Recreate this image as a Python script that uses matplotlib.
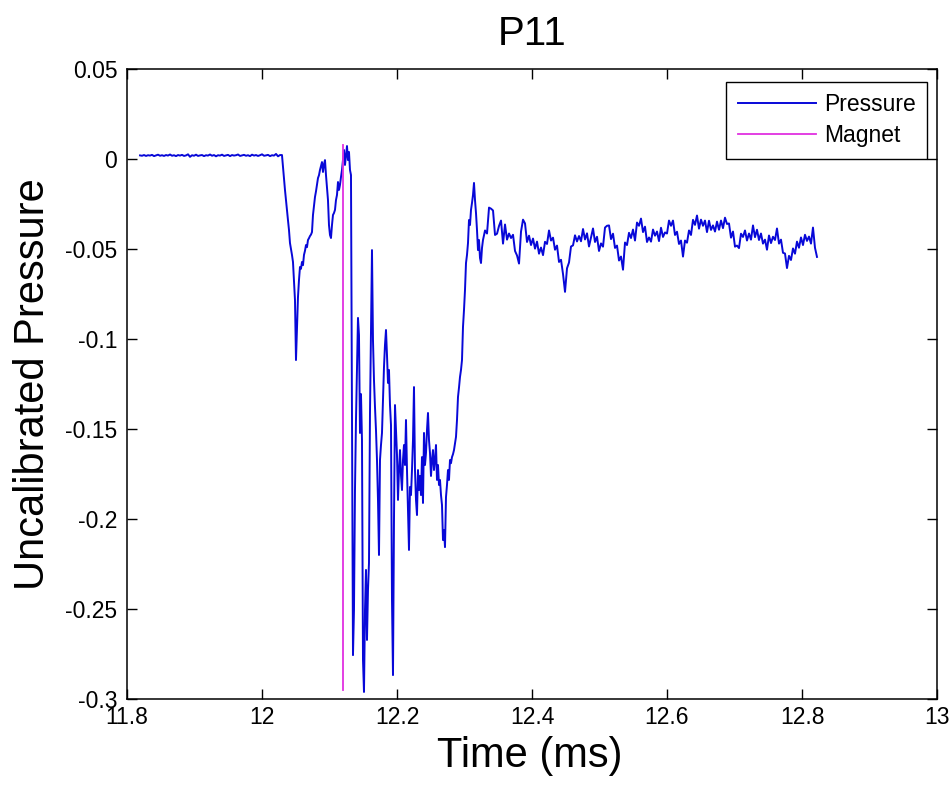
import numpy as np
import matplotlib
matplotlib.use("Agg")
import matplotlib.pyplot as plt

plt.rcParams['font.family'] = ['Liberation Sans', 'DejaVu Sans']

# ---------------- data ----------------
title = "P11"
x_label = "Time (ms)"
y_label = "Uncalibrated Pressure"
series_names = ["Pressure", "Magnet"]

x_ticks = [11.8, 12.0, 12.2, 12.4, 12.6, 12.8, 13.0]
x_tick_labels = ["11.8", "12", "12.2", "12.4", "12.6", "12.8", "13"]
y_ticks = [0.05, 0.0, -0.05, -0.1, -0.15, -0.2, -0.25, -0.3]
y_tick_labels = ["0.05", "0", "-0.05", "-0.1", "-0.15", "-0.2", "-0.25", "-0.3"]

# Pressure: pre-event baseline, sampled 11.819 .. 12.027 ms
baseline_span = (11.8193, 12.0267)
baseline_p = [
    0.0020, 0.0018, 0.0022, 0.0017, 0.0021, 0.0019, 0.0023, 0.0016, 0.0020, 0.0024,
    0.0018, 0.0021, 0.0017, 0.0022, 0.0019, 0.0025, 0.0018, 0.0021, 0.0016, 0.0022,
    0.0019, 0.0023, 0.0017, 0.0020, 0.0026, 0.0012, 0.0021, 0.0018, 0.0024, 0.0017,
    0.0020, 0.0022, 0.0016, 0.0021, 0.0019, 0.0025, 0.0018, 0.0022, 0.0015, 0.0021,
    0.0019, 0.0024, 0.0017, 0.0020, 0.0023, 0.0016, 0.0022, 0.0019, 0.0021, 0.0025,
    0.0017, 0.0020, 0.0023, 0.0018, 0.0021, 0.0016, 0.0024, 0.0019, 0.0022, 0.0017,
    0.0021, 0.0026, 0.0018, 0.0020, 0.0023, 0.0016, 0.0021, 0.0019, 0.0028, 0.0015,
    0.0022,
]

# Pressure: event transient, sampled 12.0296 .. 12.3274 ms
transient_span = (12.0296, 12.3274)
transient_p = [
    0.0022, -0.0044, -0.0110, -0.0172, -0.0230, -0.0283, -0.0340, -0.0394, -0.0467, -0.0500,
    -0.0533, -0.0572, -0.0672, -0.0783, -0.1117, -0.0950, -0.0767, -0.0672, -0.0600, -0.0610,
    -0.0572, -0.0590, -0.0533, -0.0510, -0.0478, -0.0490, -0.0450, -0.0440, -0.0428, -0.0420,
    -0.0406, -0.0311, -0.0260, -0.0211, -0.0180, -0.0144, -0.0106, -0.0090, -0.0061, -0.0040,
    -0.0017, -0.0072, -0.0030, -0.0006, -0.0089, -0.0156, -0.0228, -0.0367, -0.0422, -0.0439,
    -0.0367, -0.0311, -0.0300, -0.0283, -0.0228, -0.0200, -0.0128, -0.0172, -0.0144, -0.0100,
    -0.0061, -0.0006, 0.0050, -0.0033, 0.0022, 0.0072, -0.0006, 0.0039, -0.0061, -0.0089,
    -0.1356, -0.2756, -0.2506, -0.1839, -0.1450, -0.1156, -0.0883, -0.0978, -0.1522, -0.1306,
    -0.1561, -0.2783, -0.2961, -0.2506, -0.2283, -0.2672, -0.2394, -0.2244, -0.1411, -0.0950,
    -0.0506, -0.1006, -0.1228, -0.1378, -0.1506, -0.1672, -0.1894, -0.2200, -0.1672, -0.1589,
    -0.1522, -0.1339, -0.1156, -0.1033, -0.0950, -0.1089, -0.1244, -0.1172, -0.1367, -0.1478,
    -0.2450, -0.2867, -0.2006, -0.1367, -0.1506, -0.1644, -0.1894, -0.1728, -0.1617, -0.1756,
    -0.1839, -0.1672, -0.1589, -0.1700, -0.1450, -0.1728, -0.1950, -0.2172, -0.1822, -0.1867,
    -0.1728, -0.1561, -0.1267, -0.1728, -0.1894, -0.1978, -0.1728, -0.1839, -0.1761, -0.1867,
    -0.1656, -0.1911, -0.1522, -0.1700, -0.1633, -0.1506, -0.1411, -0.1561, -0.1633, -0.1761,
    -0.1672, -0.1617, -0.1728, -0.1672, -0.1589, -0.1783, -0.1700, -0.1811, -0.1783, -0.1867,
    -0.1922, -0.2117, -0.2061, -0.2156, -0.1878, -0.1811, -0.1728, -0.1783, -0.1672, -0.1690,
    -0.1656, -0.1640, -0.1617, -0.1580, -0.1544, -0.1450, -0.1322, -0.1270, -0.1211, -0.1172,
    -0.1117, -0.0933, -0.0839, -0.0728, -0.0578, -0.0533, -0.0467, -0.0339, -0.0367, -0.0283,
    -0.0244, -0.0200, -0.0133, -0.0228, -0.0300, -0.0394, -0.0506, -0.0450, -0.0550, -0.0578,
    -0.0494, -0.0450,
]

# Pressure: settled tail, sampled 12.3304 .. 12.8222 ms
tail_span = (12.3304, 12.8222)
tail_p = [
    -0.0397, -0.0414, -0.0270, -0.0276, -0.0286, -0.0422, -0.0415, -0.0372, -0.0342, -0.0470,
    -0.0364, -0.0448, -0.0414, -0.0439, -0.0421, -0.0511, -0.0536, -0.0581, -0.0403, -0.0337,
    -0.0358, -0.0461, -0.0426, -0.0478, -0.0442, -0.0498, -0.0459, -0.0526, -0.0492, -0.0534,
    -0.0460, -0.0472, -0.0397, -0.0453, -0.0437, -0.0504, -0.0481, -0.0572, -0.0560, -0.0639,
    -0.0738, -0.0607, -0.0575, -0.0486, -0.0480, -0.0424, -0.0458, -0.0428, -0.0457, -0.0389,
    -0.0447, -0.0413, -0.0486, -0.0435, -0.0386, -0.0461, -0.0432, -0.0511, -0.0469, -0.0487,
    -0.0381, -0.0371, -0.0369, -0.0445, -0.0415, -0.0494, -0.0481, -0.0564, -0.0542, -0.0615,
    -0.0464, -0.0478, -0.0410, -0.0439, -0.0392, -0.0453, -0.0353, -0.0371, -0.0331, -0.0406,
    -0.0376, -0.0461, -0.0436, -0.0459, -0.0392, -0.0426, -0.0403, -0.0456, -0.0382, -0.0433,
    -0.0408, -0.0414, -0.0342, -0.0371, -0.0342, -0.0422, -0.0404, -0.0472, -0.0453, -0.0542,
    -0.0453, -0.0465, -0.0397, -0.0422, -0.0338, -0.0366, -0.0314, -0.0387, -0.0337, -0.0371,
    -0.0342, -0.0406, -0.0343, -0.0394, -0.0369, -0.0403, -0.0348, -0.0393, -0.0342, -0.0384,
    -0.0326, -0.0361, -0.0358, -0.0437, -0.0403, -0.0487, -0.0481, -0.0495, -0.0415, -0.0433,
    -0.0397, -0.0453, -0.0414, -0.0448, -0.0369, -0.0434, -0.0393, -0.0450, -0.0414, -0.0470,
    -0.0448, -0.0504, -0.0425, -0.0467, -0.0432, -0.0450, -0.0386, -0.0470, -0.0448, -0.0521,
    -0.0525, -0.0606, -0.0538, -0.0561, -0.0497, -0.0526, -0.0459, -0.0493, -0.0436, -0.0478,
    -0.0421, -0.0455, -0.0431, -0.0470, -0.0381, -0.0493, -0.0544,
]

# Magnet trigger marker
magnet_t = [12.12, 12.12]
magnet_p = [-0.295, 0.008]

x_limits = (11.8, 13.0)
y_limits = (-0.3, 0.05)

# ---------------- build the pressure series ----------------
pressure_t = np.concatenate([
    np.linspace(baseline_span[0], baseline_span[1], len(baseline_p)),
    np.linspace(transient_span[0], transient_span[1], len(transient_p)),
    np.linspace(tail_span[0], tail_span[1], len(tail_p)),
])
pressure_p = np.concatenate([baseline_p, transient_p, tail_p])

# ---------------- figure ----------------
W, H = 952, 786
fig = plt.figure(figsize=(W / 100, H / 100), dpi=100, facecolor="white")
ax_left, ax_right, ax_top, ax_bottom = 127, 937, 69, 699
ax = fig.add_axes([ax_left / W, 1 - ax_bottom / H,
                   (ax_right - ax_left) / W, (ax_bottom - ax_top) / H])
ax.set_facecolor("white")

ax.plot(pressure_t, pressure_p, color="#0808d8", lw=1.4, label=series_names[0])
ax.plot(magnet_t, magnet_p, color="#e030e0", lw=1.3, label=series_names[1])

ax.set_xlim(*x_limits)
ax.set_ylim(*y_limits)
ax.set_xticks(x_ticks)
ax.set_xticklabels(x_tick_labels)
ax.set_yticks(y_ticks)
ax.set_yticklabels(y_tick_labels)

for s in ax.spines.values():
    s.set_linewidth(1.1)
    s.set_color("black")

ax.tick_params(axis="both", which="major", direction="in", length=7, width=1.0,
               top=True, right=True, labelsize=16.5, colors="black")
ax.tick_params(axis="x", pad=5)
ax.tick_params(axis="y", pad=7)

ax.set_title(title, fontsize=29, pad=17)

fig.text(530 / W, 1 - 767 / H, x_label, fontsize=30, ha="center", va="baseline")
fig.text(33 / W, 1 - 384 / H, y_label, fontsize=30, ha="center", va="center",
         rotation=90)

leg = ax.legend(loc="upper right",
                bbox_to_anchor=((927 - ax_left) / (ax_right - ax_left),
                                (ax_bottom - 82) / (ax_bottom - ax_top)),
                borderaxespad=0, fontsize=16.5, fancybox=False, framealpha=1,
                edgecolor="black", borderpad=0.5, handlelength=3.4,
                handletextpad=0.35, labelspacing=0.35)
leg.get_frame().set_linewidth(1.0)

fig.savefig("out.png", dpi=100, facecolor="white")
